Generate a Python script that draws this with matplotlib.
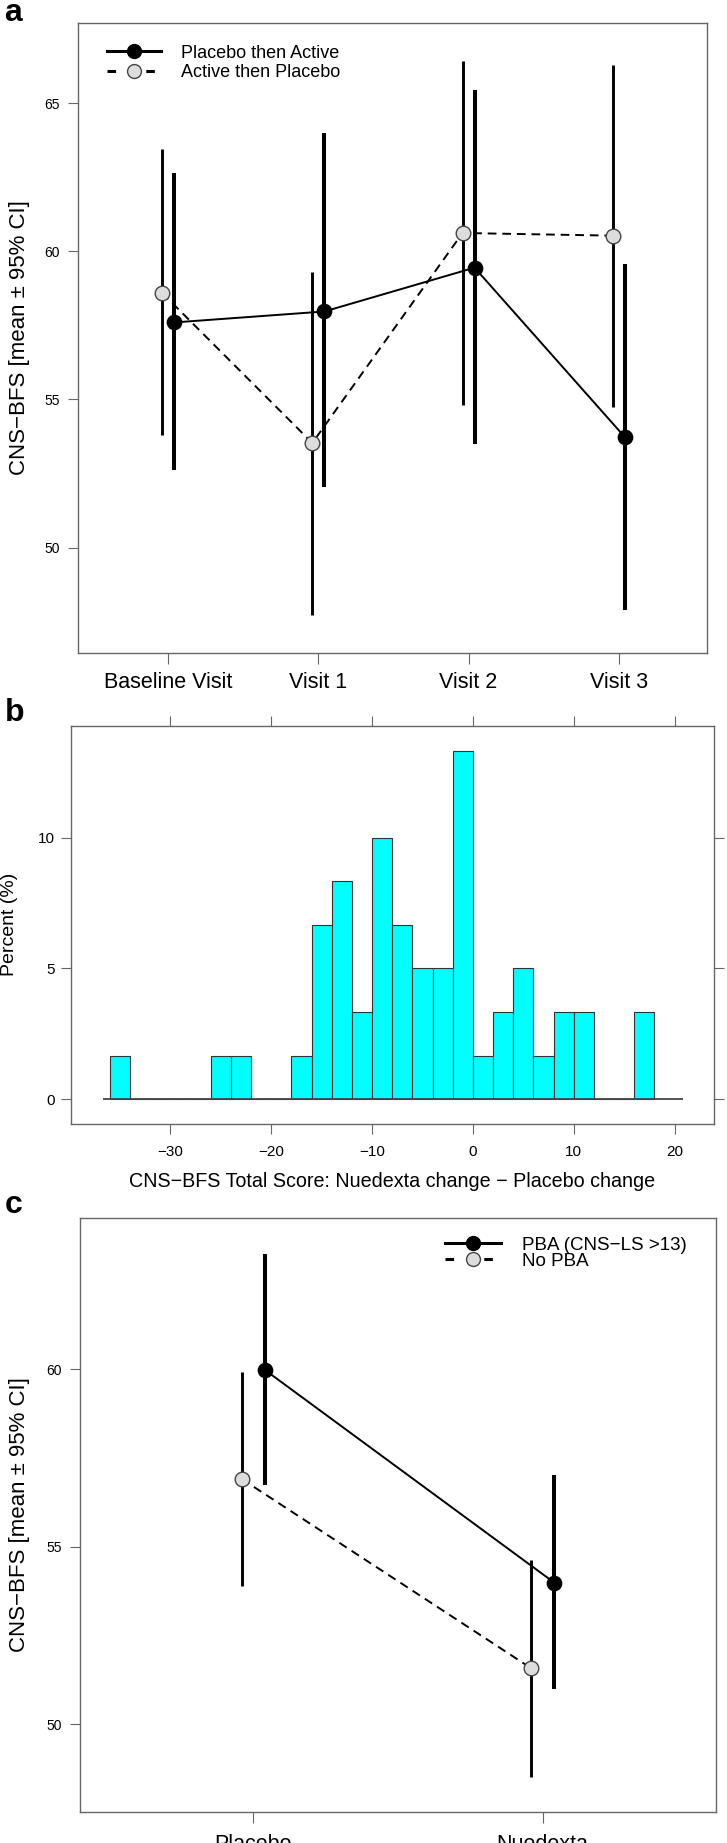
import matplotlib
matplotlib.use('Agg')
import matplotlib.pyplot as plt
from matplotlib.lines import Line2D

plt.rcParams['font.family'] = ['Liberation Sans', 'DejaVu Sans']

W, H = 727, 1843

# ---- panel a : CNS-BFS by visit and sequence ----
visits = ['Baseline Visit', 'Visit 1', 'Visit 2', 'Visit 3']
pa_mean = [57.60, 57.97, 59.45, 53.73]   # Placebo then Active
pa_lo = [52.62, 52.04, 53.50, 47.90]
pa_hi = [62.65, 64.00, 65.46, 59.57]
ap_mean = [58.60, 53.53, 60.62, 60.53]   # Active then Placebo
ap_lo = [53.80, 47.73, 54.82, 54.76]
ap_hi = [63.46, 59.32, 66.44, 66.29]

# ---- panel b : histogram of differences ----
bin_left = [-36, -34, -32, -30, -28, -26, -24, -22, -20, -18, -16, -14, -12, -10,
            -8, -6, -4, -2, 0, 2, 4, 6, 8, 10, 12, 14, 16]
bin_pct = [1.67, 0, 0, 0, 0, 1.67, 1.67, 0, 0, 1.67, 6.67, 8.33, 3.33, 10.0,
           6.67, 5.0, 5.0, 13.33, 1.67, 3.33, 5.0, 1.67, 3.33, 3.33, 0, 0, 3.33]
base_from, base_to = -36.7, 20.8

# ---- panel c : PBA vs no PBA ----
arms = ['Placebo', 'Nuedexta']
pba_mean = [59.98, 53.99]
pba_lo = [56.73, 50.99]
pba_hi = [63.25, 57.02]
no_mean = [56.91, 51.58]
no_lo = [53.89, 48.52]
no_hi = [59.93, 54.63]

FRAME = '#666666'
GREYFILL = '#dddddd'
DASH = (0, (4.5, 3))


def px_axes(fig, left, top, right, bottom):
    return fig.add_axes([left / W, 1 - bottom / H, (right - left) / W, (bottom - top) / H])


def style_frame(ax):
    for s in ax.spines.values():
        s.set_color(FRAME)
        s.set_linewidth(1.0)


def interval_plot(ax, n, m1, lo1, hi1, m2, lo2, hi2, off=0.04):
    x1 = [i + off for i in range(n)]
    x2 = [i - off for i in range(n)]
    ax.plot(x1, m1, color='black', lw=1.4, zorder=2)
    ax.plot(x2, m2, color='black', lw=1.4, ls=DASH, zorder=2)
    ax.vlines(x2, lo2, hi2, color='black', lw=2.1, zorder=3)
    ax.vlines(x1, lo1, hi1, color='black', lw=2.9, zorder=3)
    ax.plot(x2, m2, 'o', ms=10.5, mfc=GREYFILL, mec='#444444', mew=1.0, ls='none', zorder=4)
    ax.plot(x1, m1, 'o', ms=10.3, mfc='black', mec='black', ls='none', zorder=5)


def legend_handles():
    h1 = Line2D([], [], color='black', lw=2.2, marker='o', ms=10, mfc='black', mec='black')
    h2 = Line2D([], [], color='black', lw=2.2, ls=(0, (2.8, 9.9)), marker='o', ms=10,
                mfc=GREYFILL, mec='#444444', mew=1.0)
    return [h1, h2]


fig = plt.figure(figsize=(W / 100, H / 100), dpi=100)

# ================= a =================
ax = px_axes(fig, 77.9, 23.3, 707, 652.7)
interval_plot(ax, len(visits), pa_mean, pa_lo, pa_hi, ap_mean, ap_lo, ap_hi)
ax.set_xlim(-0.6, 3.587)
ax.set_ylim(46.45, 67.7)
ax.set_xticks(range(len(visits)))
ax.set_xticklabels(visits, fontsize=15.5)
ax.set_yticks([50, 55, 60, 65])
ax.tick_params(axis='y', labelsize=10, length=7, color=FRAME, pad=6)
ax.tick_params(axis='x', length=8, color=FRAME, pad=6)
style_frame(ax)
ax.legend(legend_handles(), ['Placebo then Active', 'Active then Placebo'],
          loc='upper left', bbox_to_anchor=(0.0456, 0.966), frameon=False,
          fontsize=13, handlelength=3, handletextpad=1.1, labelspacing=0.12,
          borderpad=0, borderaxespad=0)
fig.text(20 / W, 1 - 338 / H, 'CNS\u2212BFS [mean \u00b1 95% CI]', rotation=90,
         ha='center', va='center', fontsize=16)
fig.text(4 / W, 1 - 21 / H, 'a', fontsize=23, fontweight='bold', ha='left', va='baseline')

# ================= b =================
ax = px_axes(fig, 70.5, 725.7, 714, 1124.3)
ax.bar(bin_left, bin_pct, width=2, align='edge', color='#00ffff',
       edgecolor='#333333', lw=0.8, zorder=2)
ax.hlines(0, base_from, base_to, color='#444444', lw=1.3, zorder=3)
ax.set_xlim(-39.9, 23.9)
ax.set_ylim(-0.96, 14.28)
ax.set_xticks([-30, -20, -10, 0, 10, 20])
ax.set_yticks([0, 5, 10])
ax.tick_params(axis='both', direction='out', length=7, color=FRAME, labelsize=11,
               top=True, right=True)
ax.tick_params(axis='x', pad=8)
ax.tick_params(axis='y', pad=4)
style_frame(ax)
fig.text(9.5 / W, 1 - 924 / H, 'Percent (%)', rotation=90, ha='center', va='center', fontsize=14)
fig.text(392 / W, 1 - 1181.7 / H, 'CNS\u2212BFS Total Score: Nuedexta change \u2212 Placebo change',
         ha='center', va='center', fontsize=14.2)
fig.text(5 / W, 1 - 721 / H, 'b', fontsize=23, fontweight='bold', ha='left', va='baseline')

# ================= c =================
ax = px_axes(fig, 79.7, 1218.3, 716.3, 1811.7)
interval_plot(ax, len(arms), pba_mean, pba_lo, pba_hi, no_mean, no_lo, no_hi)
ax.set_xlim(-0.6, 1.6)
ax.set_ylim(47.54, 64.25)
ax.set_xticks(range(len(arms)))
ax.set_xticklabels(arms, fontsize=15.5)
ax.set_yticks([50, 55, 60])
ax.tick_params(axis='y', labelsize=10, length=7, color=FRAME, pad=6)
ax.tick_params(axis='x', length=8, color=FRAME, pad=8)
style_frame(ax)
ax.legend(legend_handles(), ['PBA (CNS\u2212LS >13)', 'No PBA'],
          loc='upper left', bbox_to_anchor=(0.574, 0.969), frameon=False,
          fontsize=13.5, handlelength=3, handletextpad=1.1, labelspacing=-0.05,
          borderpad=0, borderaxespad=0)
fig.text(20 / W, 1 - 1515 / H, 'CNS\u2212BFS [mean \u00b1 95% CI]', rotation=90,
         ha='center', va='center', fontsize=16)
fig.text(5 / W, 1 - 1213 / H, 'c', fontsize=23, fontweight='bold', ha='left', va='baseline')

fig.savefig('out.png', dpi=100)
